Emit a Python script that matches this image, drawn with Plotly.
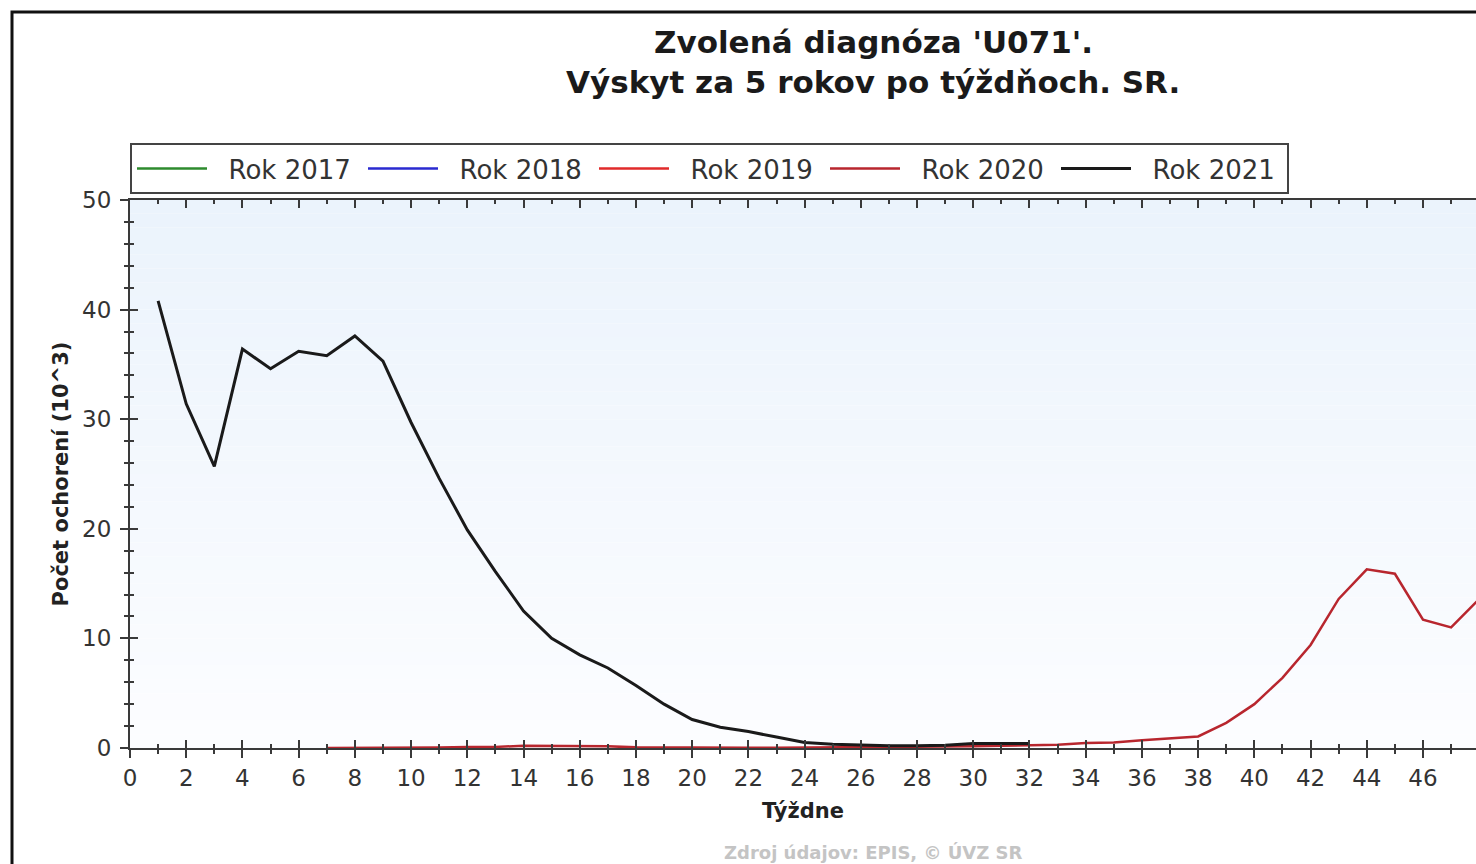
import plotly.graph_objects as go

# ---------------- data (values in thousands) ----------------
weeks_2021 = list(range(1, 33))
cases_2021 = [40.8, 31.4, 25.7, 36.4, 34.6, 36.2, 35.8, 37.6, 35.3, 29.7,
              24.6, 19.9, 16.1, 12.5, 10.0, 8.5, 7.3, 5.7, 4.0, 2.6,
              1.9, 1.5, 1.0, 0.5, 0.35, 0.25, 0.2, 0.2, 0.25, 0.4,
              0.4, 0.4]

weeks_2020 = list(range(7, 49))
cases_2020 = [0.0, 0.0, 0.0, 0.02, 0.05, 0.08, 0.1, 0.2, 0.18, 0.18,
              0.15, 0.06, 0.04, 0.03, 0.03, 0.03, 0.03, 0.04, 0.05, 0.06,
              0.08, 0.1, 0.12, 0.15, 0.2, 0.25, 0.3, 0.45, 0.5, 0.7,
              0.9, 1.05, 2.3, 4.0, 6.4, 9.4, 13.6, 16.3, 15.9, 11.7,
              11.0, 13.6]

weeks_2019, cases_2019 = [], []
weeks_2018, cases_2018 = [], []
weeks_2017, cases_2017 = [], []

series_names = ["Rok 2017", "Rok 2018", "Rok 2019", "Rok 2020", "Rok 2021"]
series_colors = ["#2e8b2e", "#2a2ad0", "#e02a2a", "#b8262e", "#1a1a1a"]

title_line1 = "Zvolená diagnóza 'U071'."
title_line2 = "Výskyt za 5 rokov po týždňoch. SR."
x_title = "Týždne"
y_title = "Počet ochorení (10^3)"
source_text = "Zdroj údajov: EPIS, © ÚVZ SR"

# ---------------- figure ----------------
W, H = 1476, 864
L, T, B, R = 130, 200, 116, 0
plot_w = W - L - R
plot_h = H - T - B
px_per_week = (1423 - 130) / 46.0
x_max = plot_w / px_per_week

FONT = "DejaVu Sans, Arial, sans-serif"
AX = "#3a3a3a"
NB = "\u00a0\u00a0"  # small gap between legend line sample and label

fig = go.Figure()
data = [(weeks_2017, cases_2017), (weeks_2018, cases_2018), (weeks_2019, cases_2019),
        (weeks_2020, cases_2020), (weeks_2021, cases_2021)]
widths = [2.5, 2.5, 2.5, 2.5, 3]
for (wx, vy), name, col, lw in zip(data, series_names, series_colors, widths):
    fig.add_trace(go.Scatter(x=wx if wx else [None], y=vy if vy else [None],
                             mode="lines", name=NB + name,
                             line=dict(color=col, width=lw)))

# helper trace for overlay axes (inner ticks)
fig.add_trace(go.Scatter(x=[None], y=[None], xaxis="x2", yaxis="y2",
                         showlegend=False, hoverinfo="skip"))

# background gradient bands
n = 40
top = (235, 243, 252)
bot = (252, 253, 255)
for i in range(n):
    f = i / (n - 1)
    c = tuple(round(top[k] + (bot[k] - top[k]) * f) for k in range(3))
    fig.add_shape(type="rect", xref="x domain", yref="y domain",
                  x0=0, x1=1, y0=1 - (i + 1) / n, y1=1 - i / n,
                  fillcolor="rgb(%d,%d,%d)" % c, line=dict(width=0), layer="below")

def px_x(p):
    return (p - L) / plot_w
def px_y(p):
    return (H - B - p) / plot_h

# outer frame
fig.add_shape(type="rect", xref="paper", yref="paper",
              x0=px_x(12), x1=px_x(1500), y0=px_y(880), y1=px_y(12),
              line=dict(color="#111111", width=3), fillcolor="rgba(0,0,0,0)")

tickfont = dict(family=FONT, size=23, color="#333333")
fig.update_layout(
    width=W, height=H,
    margin=dict(l=L, r=R, t=T, b=B, pad=0),
    paper_bgcolor="white", plot_bgcolor="white",
    font=dict(family=FONT, color="#222222"),
    showlegend=True,
    legend=dict(orientation="h", x=0, xanchor="left", y=px_y(143), yanchor="top",
                bgcolor="white", bordercolor="#444444", borderwidth=2,
                font=dict(family=FONT, size=26, color="#333333"),
                itemwidth=70, entrywidth=146, entrywidthmode="pixels",
                traceorder="normal", itemclick=False),
    xaxis=dict(range=[0, x_max], tick0=0, dtick=2, ticks="outside", ticklen=8,
               tickwidth=2, tickcolor=AX, showline=True, linecolor=AX, linewidth=2,
               showgrid=False, zeroline=False, tickfont=tickfont, ticklabelstandoff=0,
               minor=dict(dtick=1, ticks="outside", ticklen=4, tickwidth=2, tickcolor=AX),
               title=dict(text="<b>" + x_title + "</b>", standoff=14,
                          font=dict(family=FONT, size=21, color="#222222"))),
    xaxis2=dict(range=[0, x_max], overlaying="x", anchor="y", side="bottom",
                tick0=0, dtick=2, ticks="inside", ticklen=8, tickwidth=2, tickcolor=AX,
                showline=True, linecolor=AX, linewidth=2, mirror="ticks",
                showgrid=False, zeroline=False, showticklabels=False,
                minor=dict(dtick=1, ticks="inside", ticklen=4, tickwidth=2, tickcolor=AX)),
    yaxis=dict(range=[0, 50], tick0=0, dtick=10, ticks="outside", ticklen=8,
               tickwidth=2, tickcolor=AX, showline=True, linecolor=AX, linewidth=2,
               showgrid=False, zeroline=False, tickfont=tickfont, ticklabelstandoff=4,
               minor=dict(dtick=2, ticks="outside", ticklen=4, tickwidth=2, tickcolor=AX),
               title=dict(text="<b>" + y_title + "</b>", standoff=8,
                          font=dict(family=FONT, size=21, color="#222222"))),
    yaxis2=dict(range=[0, 50], overlaying="y", anchor="x", side="left",
                tick0=0, dtick=10, ticks="inside", ticklen=8, tickwidth=2, tickcolor=AX,
                showline=False, mirror=False,
                showgrid=False, zeroline=False, showticklabels=False,
                minor=dict(dtick=2, ticks="inside", ticklen=4, tickwidth=2, tickcolor=AX)),
)

for txt, yc in [(title_line1, 42), (title_line2, 82)]:
    fig.add_annotation(text="<b>" + txt + "</b>", xref="paper", yref="paper",
                       x=px_x(873), y=px_y(yc), xanchor="center", yanchor="middle",
                       showarrow=False, font=dict(family=FONT, size=31, color="#1a1a1a"))

fig.add_annotation(text="<b>" + source_text + "</b>", xref="paper", yref="paper",
                   x=px_x(873), y=px_y(852), xanchor="center", yanchor="middle",
                   showarrow=False, font=dict(family=FONT, size=18, color="#c4c4c4"))

fig.write_html("out.html", config={"displayModeBar": False},
               post_script="document.body.style.margin='0px';")
